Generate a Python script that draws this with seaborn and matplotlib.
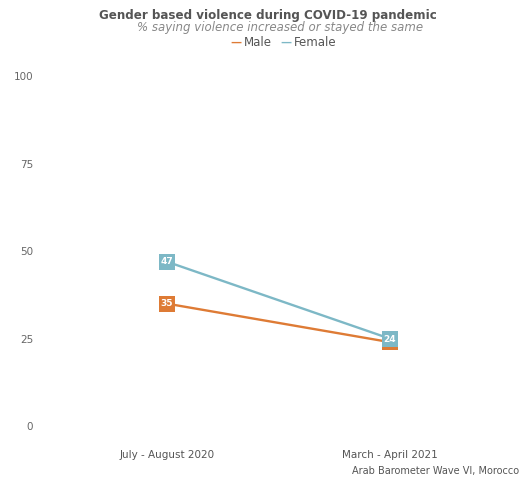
import matplotlib.pyplot as plt
import seaborn as sns
import pandas as pd

# Data
periods = ['July - August 2020', 'March - April 2021']
male = [35, 24]
female = [47, 25]
male_labels = ['35', '24']
female_labels = ['47', '']

df = pd.DataFrame({
    'Period': periods * 2,
    'Value': male + female,
    'Gender': ['Male'] * 2 + ['Female'] * 2,
})

sns.set_style('white')
plt.rcParams['font.family'] = ['DejaVu Sans']

palette = {'Male': '#DE7B35', 'Female': '#7DB8C6'}

fig = plt.figure(figsize=(5.21, 4.82), dpi=100)
ax = fig.add_axes([0.106, 0.116, 0.856, 0.726])

sns.lineplot(data=df, x='Period', y='Value', hue='Gender', hue_order=['Male', 'Female'],
             palette=palette, marker='s', markersize=12, markeredgewidth=0,
             linewidth=1.7, legend=False, ax=ax)

# value labels
for i, v in enumerate(female):
    if female_labels[i]:
        ax.text(i, v, female_labels[i], ha='center', va='center', color='white',
                fontsize=6.5, fontweight='bold', zorder=5)
for i, v in enumerate(male):
    ax.text(i, v + (0.8 if i == 1 else 0), male_labels[i], ha='center', va='center', color='white',
            fontsize=6.5, fontweight='bold', zorder=5)

ax.set_xlim(-0.5, 1.5)
ax.set_ylim(0, 100)
ax.set_yticks([0, 25, 50, 75, 100])
ax.set_xlabel('')
ax.set_ylabel('')
sns.despine(ax=ax, left=True, bottom=True)
ax.tick_params(axis='y', length=0, pad=16, labelsize=7.5, labelcolor='#666666')
ax.tick_params(axis='x', length=0, pad=17, labelsize=7.5, labelcolor='#555555')

# titles
fig.text(0.515, 0.968, 'Gender based violence during COVID-19 pandemic', ha='center', va='center',
         fontsize=8.6, fontweight='bold', color='#555555')
fig.text(0.537, 0.943, '% saying violence increased or stayed the same', ha='center', va='center',
         fontsize=8.5, style='italic', color='#888888')

# legend
fig.text(0.452, 0.912, '\u2014', ha='center', va='center', fontsize=8, color=palette['Male'], fontweight='bold')
fig.text(0.468, 0.912, 'Male', ha='left', va='center', fontsize=8.5, color='#555555')
fig.text(0.548, 0.912, '\u2014', ha='center', va='center', fontsize=8, color=palette['Female'], fontweight='bold')
fig.text(0.564, 0.912, 'Female', ha='left', va='center', fontsize=8.5, color='#555555')

# source
fig.text(0.676, 0.023, 'Arab Barometer Wave VI, Morocco', ha='left', va='center',
         fontsize=7, color='#555555')

fig.savefig('out.png', dpi=100)
